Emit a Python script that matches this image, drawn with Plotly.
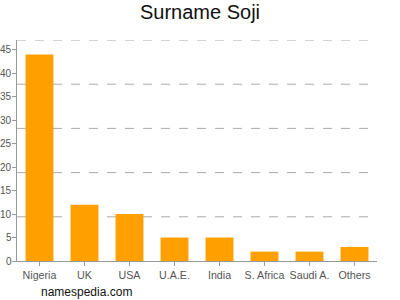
import plotly.graph_objects as go

categories = ["Nigeria", "UK", "USA", "U.A.E.", "India", "S. Africa", "Saudi A.", "Others"]
values = [44, 12, 10, 5, 5, 2, 2, 3]
y_ticks = [0, 5, 10, 15, 20, 25, 30, 35, 40, 45]
y_max = 47.1
grid_levels = [y_max * k / 5 for k in range(1, 6)]

fig = go.Figure(go.Bar(x=categories, y=values, marker_color="#FF9F00", marker_line_width=0))

for g in grid_levels:
    fig.add_shape(type="line", xref="paper", yref="y", x0=0, x1=1, y0=g, y1=g,
                  line=dict(color="#AAAAAA", width=1, dash="dash"), layer="below")

annotations = [dict(text=str(t), xref="paper", yref="y", x=0, y=t, xshift=-4.5,
                    xanchor="right", yanchor="middle", showarrow=False, borderpad=0,
                    font=dict(size=10, color="#555555")) for t in y_ticks]
annotations.append(dict(text="namespedia.com", xref="paper", yref="paper", x=0.061, y=-0.139,
                        xanchor="left", yanchor="middle", showarrow=False,
                        font=dict(size=12, color="#111111")))

fig.update_layout(
    width=400, height=300,
    margin=dict(l=17, r=23, t=40, b=39),
    paper_bgcolor="white", plot_bgcolor="white",
    bargap=0.38,
    showlegend=False,
    font=dict(family="Liberation Sans, Arial, sans-serif", size=11, color="#555555"),
    title=dict(text="Surname Soji", x=0.5, xanchor="center", y=0.96, yanchor="middle",
               font=dict(size=20, color="#111111")),
    xaxis=dict(showline=True, linecolor="#999999", linewidth=1, ticks="outside",
               ticklen=4, tickcolor="#999999", showgrid=False, fixedrange=True,
               tickangle=0, automargin=False, tickfont=dict(size=10.7)),
    yaxis=dict(range=[0, y_max], tickvals=y_ticks, showline=True, linecolor="#999999",
               linewidth=1, ticks="outside", ticklen=4, tickcolor="#999999",
               showgrid=False, zeroline=False, fixedrange=True, automargin=False,
               showticklabels=False),
    annotations=annotations,
)

fig.write_html("out.html")
